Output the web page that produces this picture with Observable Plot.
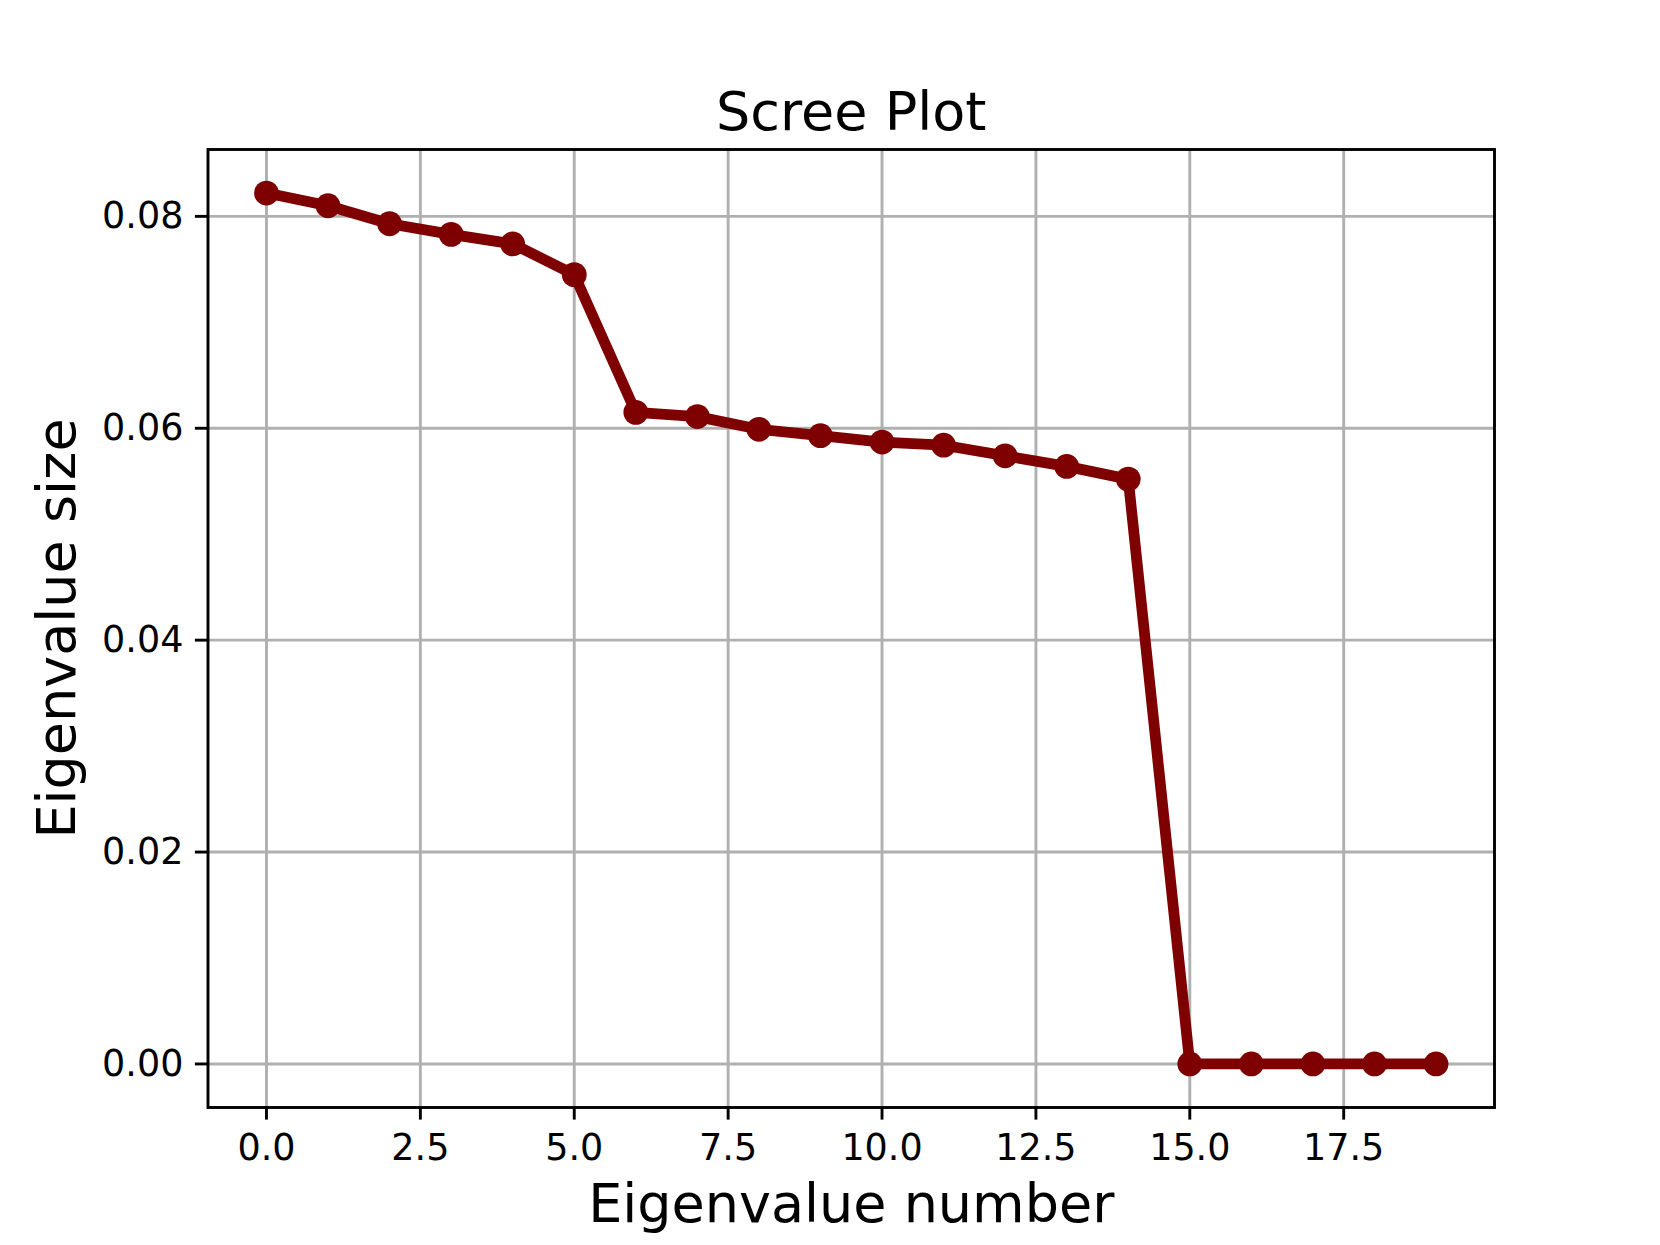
<!DOCTYPE html>
<html>
<head>
<meta charset="utf-8">
<script src="https://cdn.jsdelivr.net/npm/d3@7"></script>
<script src="https://cdn.jsdelivr.net/npm/@observablehq/plot@0.6"></script>
<style>
  html, body { margin: 0; padding: 0; background: #fff; }
  svg { display: block; }
</style>
</head>
<body>
<div id="chart"></div>
<script>
const eigenIndex = [0,1,2,3,4,5,6,7,8,9,10,11,12,13,14,15,16,17,18,19];
const eigenValues = [0.0822,0.0810,0.0793,0.0783,0.0774,0.0745,0.0615,0.0611,0.0599,0.0593,
                     0.0587,0.0584,0.0574,0.0564,0.0552,0,0,0,0,0];
const xTicks = [0,2.5,5,7.5,10,12.5,15,17.5];
const yTicks = [0,0.02,0.04,0.06,0.08];
const titleText = "Scree Plot";
const xLabel = "Eigenvalue number";
const yLabel = "Eigenvalue size";

const data = eigenIndex.map((i, k) => ({x: i, y: eigenValues[k]}));

function padDomain(vals) {
  const lo = d3.min(vals), hi = d3.max(vals), r = hi - lo;
  return [lo - 0.05 * r, hi + 0.05 * r];
}

const lineColor = "#7f0000";
const gridColor = "#b0b0b0";
const font = "DejaVu Sans, sans-serif";

const chart = Plot.plot({
  width: 1660,
  height: 1245,
  marginLeft: 207.5,
  marginRight: 166,
  marginTop: 149,
  marginBottom: 138,
  style: {fontFamily: font, background: "#fff", overflow: "visible"},
  x: {domain: padDomain(eigenIndex)},
  y: {domain: padDomain(eigenValues)},
  marks: [
    Plot.gridX(xTicks, {stroke: gridColor, strokeOpacity: 1, strokeWidth: 2.9}),
    Plot.gridY(yTicks, {stroke: gridColor, strokeOpacity: 1, strokeWidth: 2.9}),
    Plot.axisX(xTicks, {anchor: "bottom", tickSize: 12.6, tickPadding: 14, strokeWidth: 2.9,
      tickFormat: d3.format(".1f"), fontSize: 36.5, label: null, fill: "#000"}),
    Plot.axisY(yTicks, {anchor: "left", tickSize: 12.6, tickPadding: 12, strokeWidth: 2.9,
      tickFormat: d3.format(".2f"), fontSize: 36.5, label: null, fill: "#000"}),
    Plot.line(data, {x: "x", y: "y", stroke: lineColor, strokeWidth: 10.8, strokeLinejoin: "round"}),
    Plot.dot(data, {x: "x", y: "y", r: 12.4, fill: lineColor, stroke: null}),
    Plot.frame({stroke: "#000", strokeWidth: 2.9}),
    Plot.text([titleText], {frameAnchor: "top", dy: -58, fontSize: 54, fill: "#000", textAnchor: "middle"}),
    Plot.text([xLabel], {frameAnchor: "bottom", dy: 114, fontSize: 54, fill: "#000", textAnchor: "middle"}),
    Plot.text([yLabel], {frameAnchor: "left", dx: -150, rotate: -90, fontSize: 54, fill: "#000", textAnchor: "middle"})
  ]
});
document.getElementById("chart").appendChild(chart);
</script>
</body>
</html>
